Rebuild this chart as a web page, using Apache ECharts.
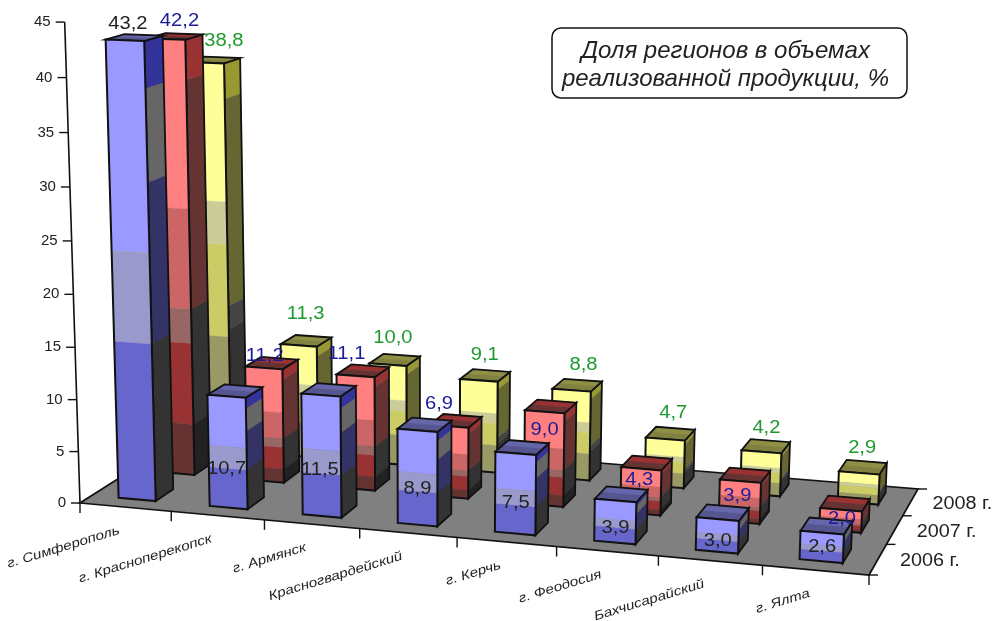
<!DOCTYPE html>
<html><head><meta charset="utf-8">
<style>html,body{margin:0;padding:0;background:#fff}#c{width:998px;height:621px}</style>
<script src="https://cdn.jsdelivr.net/npm/echarts@6/dist/echarts.min.js"></script>
</head><body><div id="c"></div>
<script>
// ---- data ----
const categories = ['г. Симферополь','г. Красноперекопск','г. Армянск','Красногвардейский','г. Керчь','г. Феодосия','Бахчисарайский','г. Ялта'];
const years = ['2006 г.','2007 г.','2008 г.'];
const values2006 = [43.2,10.7,11.5,8.9,7.5,3.9,3.0,2.6];
const values2007 = [42.2,11.2,11.1,6.9,9.0,4.3,3.9,2.0];
const values2008 = [38.8,11.3,10.0,9.1,8.8,4.7,4.2,2.9];
const yTicks = [0,5,10,15,20,25,30,35,40,45];
const titleLines = 'Доля регионов в объемах\nреализованной продукции, %';

// ---- layout: the oblique camera ----
const FLOOR = [[80,503],[869,575],[918,489],[195,430]]; // front-left, front-right, back-right, back-left
const VANISH = [430,11500];   // vertical vanishing point
const RISE = 0.0419;          // homogeneous rise of the whole value axis
const BAR_HALF = 0.205, ROW_HALF = 0.075;
const H = (function(){
  const [[x0,y0],[x1,y1],[x2,y2],[x3,y3]] = FLOOR;
  const dx1=x1-x2, dx2=x3-x2, sx=x0-x1+x2-x3, dy1=y1-y2, dy2=y3-y2, sy=y0-y1+y2-y3;
  const den=dx1*dy2-dx2*dy1, g=(sx*dy2-dx2*sy)/den, h=(dx1*sy-sx*dy1)/den;
  return {a:x1-x0+g*x1,b:x3-x0+h*x3,c:x0,d:y1-y0+g*y1,e:y3-y0+h*y3,f:y0,g,h};
})();
function proj(u,n,z){ // u across, n height (0..1 of axis), z depth
  const t=-RISE*n, W=H.g*u+H.h*z+1+t;
  return [(H.a*u+H.b*z+H.c+t*VANISH[0])/W,(H.d*u+H.e*z+H.f+t*VANISH[1])/W];
}
function norm(params,api,i,v){
  const cs=params.coordSys, p=api.coord([i,v]);
  return {u:(p[0]-cs.x)/cs.width, n:(cs.y+cs.height-p[1])/cs.height, band:api.size([1,0])[0]/cs.width};
}
// ---- styles ----
const STYLE = [
 {front:[[0,'#9999ff'],[.45,'#9999cc'],[.65,'#6666cc']],
  side:[[0,'#333399'],[.1,'#666666'],[.3,'#333366'],[.65,'#333333']],
  top:['#6666aa','#55558f'], label:'#222222'},
 {front:[[0,'#ff8080'],[.38,'#cc6666'],[.61,'#996666'],[.69,'#993333'],[.88,'#663333']],
  side:[[0,'#993333'],[.09,'#663333'],[.61,'#333333'],[.88,'#222222']],
  top:['#993333','#663333'], label:'#1c1c99'},
 {front:[[0,'#ffff99'],[.35,'#cccc99'],[.46,'#cccc66'],[.7,'#999966']],
  side:[[0,'#999933'],[.09,'#666633'],[.62,'#444444'],[.68,'#333333']],
  top:['#8f8f45','#808040'], label:'#1f9a2f'}
];
const ROW_Z = [1/6+.005,.5+.01,5/6+.015];
const LABEL_OFFSET = [
 [[3,-16],[0,73],[-1,75],[0,59],[0,50],[0,28],[0,22],[0,14]],
 [[13,-18],[1,-12],[-9,-22],[-10,-22],[0,18],[-2,11],[-3,15],[1,9]],
 [[18,-22],[7,-31],[5,-27],[6,-25],[12,-25],[8,-26],[5,-24],[3,-25]]
];
const INK='#111111';
function poly(pts,fill,stroke,lw){
  return {type:'polygon',silent:true,shape:{points:pts},
    style:{fill:fill||'none',stroke:stroke||(fill||'none'),lineWidth:lw||(fill?.4:0)}};
}
function line(a,b,lw){
  return {type:'line',silent:true,shape:{x1:a[0],y1:a[1],x2:b[0],y2:b[1]},style:{stroke:INK,lineWidth:lw||1.4}};
}
function label(text,x,y,o){
  o=o||{};
  return {type:'text',silent:true,x:x,y:y,rotation:o.rot||0,scaleX:o.sx||1,
    style:{text:text,x:0,y:0,align:o.align||'center',verticalAlign:'middle',fill:o.fill||'#222222',
      fontFamily:'"Liberation Sans",Arial,sans-serif',fontSize:o.size||18,fontStyle:o.italic?'italic':'normal'}};
}
// ---- renderers ----
function renderBar(row){
  return function(params,api){
    const i=api.value(0), v=api.value(1), base=norm(params,api,i,0), top=norm(params,api,i,v);
    const L=base.u-BAR_HALF*base.band, R=base.u+BAR_HALF*base.band;
    const z0=ROW_Z[row]-ROW_HALF, z1=ROW_Z[row]+ROW_HALF, N=top.n, st=STYLE[row];
    const kids=[];
    // side
    st.side.forEach((b,k)=>{
      const a=N*(1-b[0]), e=N*(1-(k+1<st.side.length?st.side[k+1][0]:1));
      kids.push(poly([proj(R,a,z0),proj(R,a,z1),proj(R,e,z1),proj(R,e,z0)],b[1]));
    });
    kids.push(poly([proj(R,N,z0),proj(R,N,z1),proj(R,0,z1),proj(R,0,z0)],null,INK,1.8));
    // top
    kids.push(poly([proj(L,N,z0),proj(R,N,z0),proj(R,N,z1),proj(L,N,z1)],st.top[1]));
    const zm=z0+(z1-z0)*.55;
    kids.push(poly([proj(L,N,zm),proj(R,N,zm),proj(R,N,z1),proj(L,N,z1)],st.top[0]));
    kids.push(poly([proj(L,N,z0),proj(R,N,z0),proj(R,N,z1),proj(L,N,z1)],null,INK,1.8));
    // front
    st.front.forEach((b,k)=>{
      const a=N*(1-b[0]), e=N*(1-(k+1<st.front.length?st.front[k+1][0]:1));
      kids.push(poly([proj(L,a,z0),proj(R,a,z0),proj(R,e,z0),proj(L,e,z0)],b[1]));
    });
    kids.push(poly([proj(L,N,z0),proj(R,N,z0),proj(R,0,z0),proj(L,0,z0)],null,INK,2));
    return {type:'group',children:kids};
  };
}
function renderLabel(row){
  return function(params,api){
    const i=api.value(0), v=api.value(1), t=norm(params,api,i,v);
    const p=proj(t.u,t.n,ROW_Z[row]-ROW_HALF), o=LABEL_OFFSET[row][i];
    return label(String(v.toFixed(1)).replace('.',','),p[0]+o[0],p[1]+o[1],{fill:STYLE[row].label,sx:1.12});
  };
}
function renderFrame(params,api){
  const kids=[], band=norm(params,api,0,0).band;
  const c=[proj(0,0,0),proj(1,0,0),proj(1,0,1),proj(0,0,1)];
  kids.push(poly(c,'#808080',INK,1.7));
  // value axis
  const nTop=norm(params,api,0,yTicks[yTicks.length-1]).n;
  kids.push(line(proj(0,0,0),proj(0,nTop,0),1.6));
  yTicks.forEach(t=>{
    const p=proj(0,norm(params,api,0,t).n,0);
    kids.push(line([p[0]-9,p[1]],p));
    kids.push(label(String(t),p[0]-14,p[1],{align:'right',size:15}));
  });
  // category axis
  for(let k=0;k<=categories.length;k++){
    const p=proj(k*band,0,0);
    kids.push(line(p,[p[0],p[1]+10]));
  }
  categories.forEach((name,k)=>{
    const p=proj((k+.5)*band,0,0);
    kids.push(label(name,p[0]-6,p[1]+23,{align:'right',size:13,italic:true,rot:17*Math.PI/180,sx:1.17}));
  });
  // depth axis
  for(let k=0;k<=years.length;k++){
    const p=proj(1,0,k/years.length);
    kids.push(line(p,[p[0]+9,p[1]]));
  }
  years.forEach((y,k)=>{
    const p=proj(1,0,(k+.5)/years.length);
    kids.push(label(y,p[0]+22,p[1]+2,{align:'left',sx:1.1}));
  });
  return {type:'group',children:kids};
}
const rows=[values2006,values2007,values2008];
const pairs=a=>a.map((v,i)=>[i,v]);
const series=[{type:'custom',name:'frame',data:[[0,0]],renderItem:renderFrame,clip:false,silent:true,z:1}];
[2,1,0].forEach(r=>series.push({type:'custom',name:years[r],data:pairs(rows[r]),renderItem:renderBar(r),clip:false,silent:true,z:2}));
[2,1,0].forEach(r=>series.push({type:'custom',name:years[r]+' labels',data:pairs(rows[r]),renderItem:renderLabel(r),clip:false,silent:true,z:3}));
const chart=echarts.init(document.getElementById('c'),null,{renderer:'canvas'});
chart.setOption({
  animation:false,backgroundColor:'#fff',
  grid:{left:0,right:0,top:0,bottom:0},
  xAxis:{type:'category',data:categories,show:false},
  yAxis:{type:'value',min:0,max:45,interval:5,show:false},
  graphic:[{type:'group',z:10,children:[
    {type:'rect',shape:{x:552,y:28,width:355,height:70,r:9},style:{fill:'#fff',stroke:INK,lineWidth:1.5}},
    {type:'text',x:725.5,y:65,style:{text:titleLines,align:'center',verticalAlign:'middle',fill:'#222',
      fontFamily:'"Liberation Sans",Arial,sans-serif',fontStyle:'italic',fontSize:24,lineHeight:28}}
  ]}],
  series:series
});
</script></body></html>
